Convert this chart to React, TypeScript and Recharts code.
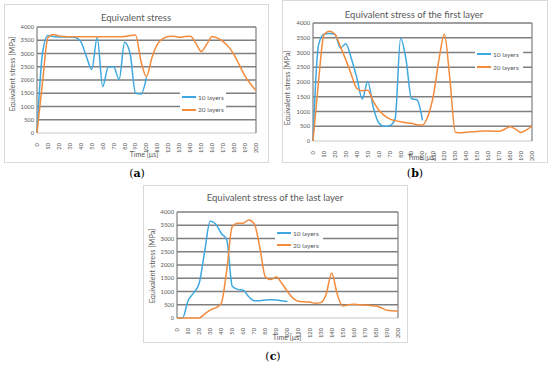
import React from "react";
import { LineChart, Line, XAxis, YAxis, ReferenceLine } from "recharts";

const FONT = "Lato, 'Open Sans', sans-serif";
const BLUE = "#3fa8e0";
const ORANGE = "#f38b3c";
const GRID = "#7f7f7f";
const TEXT = "#595959";

// time axis (µs), sampled every 5
const TIME = [0, 5, 10, 15, 20, 25, 30, 35, 40, 45, 50, 55, 60, 65, 70, 75, 80, 85, 90, 95, 100,
  105, 110, 115, 120, 125, 130, 135, 140, 145, 150, 155, 160, 165, 170, 175, 180, 185, 190, 195, 200];
const X_TICKS = [0, 10, 20, 30, 40, 50, 60, 70, 80, 90, 100, 110, 120, 130, 140, 150, 160, 170, 180, 190, 200];
const Y_TICKS = [0, 500, 1000, 1500, 2000, 2500, 3000, 3500, 4000];

// (a) equivalent stress
const A10 = [0, 3000, 3680, 3640, 3620, 3620, 3620, 3600, 3450, 2900, 2400, 3600, 1750, 2480, 2500, 2020, 3420, 3000, 1500, 1470, 2100];
const A20 = [0, 1900, 3600, 3720, 3660, 3640, 3630, 3630, 3630, 3630, 3630, 3630, 3630, 3630, 3630, 3630, 3640, 3680, 3700, 2700, 2130,
  2850, 3350, 3560, 3640, 3650, 3610, 3640, 3650, 3400, 3080, 3350, 3640, 3580, 3450, 3250, 2950, 2550, 2150, 1850, 1600];

// (b) first layer
const B10 = [0, 3250, 3620, 3640, 3620, 3150, 3300, 2800, 2150, 1420, 2020, 1150, 620, 500, 520, 750, 3480, 2750, 1430, 1400, 700];
const B20 = [0, 2000, 3600, 3720, 3620, 3200, 2750, 2250, 1780, 1700, 1720, 1350, 1050, 870, 750, 690, 650, 620, 600, 550, 540,
  850, 1550, 2750, 3620, 2100, 300, 280, 300, 310, 320, 340, 340, 330, 330, 400, 480, 400, 290, 380, 500];

// (c) last layer
const C10 = [0, 0, 650, 950, 1300, 2500, 3650, 3550, 3200, 2950, 1200, 1080, 1050, 800, 650, 650, 680, 690, 680, 650, 620];
const C20 = [0, 0, 0, 0, 0, 150, 300, 380, 550, 1800, 3450, 3580, 3580, 3700, 3550, 2650, 1550, 1450, 1550, 1300, 1000,
  750, 630, 610, 600, 560, 580, 900, 1700, 900, 450, 500, 520, 500, 490, 470, 450, 380, 290, 270, 260];

const SERIES = [
  { key: "s10", name: "10 layers", color: BLUE },
  { key: "s20", name: "20 layers", color: ORANGE },
];

const rowsOf = (s10: number[], s20: number[]) =>
  TIME.map((t, i) => ({ t, s10: s10[i], s20: s20[i] }));

function XTick({ x, y, payload }: any) {
  return (
    <g transform={`translate(${x},${y})`}>
      <text transform="rotate(-90)" x={-2} dy="0.33em" textAnchor="end" fontSize={5.8} fill={TEXT} fontFamily={FONT}>
        {payload.value}
      </text>
    </g>
  );
}

// legend box sits over the plot and hides the grid behind it, like Excel's
function LegendBox({ left, top, width, rowH }: any) {
  return (
    <div style={{ position: "absolute", left, top, width, background: "#fff", padding: "0 2px", boxSizing: "border-box",
      fontFamily: FONT, fontSize: 6.5, color: TEXT, zIndex: 5 }}>
      {SERIES.map((s) => (
        <div key={s.key} style={{ display: "flex", alignItems: "center", height: rowH, background: "#fff" }}>
          <span style={{ display: "inline-block", width: 14, height: 2, background: s.color, marginRight: 2 }} />
          <span style={{ whiteSpace: "nowrap" }}>{s.name}</span>
        </div>
      ))}
    </div>
  );
}

function Panel({ rows, left, top, width, height, margin, xAxisH, legend }: any) {
  return (
    <div style={{ position: "absolute", left, top, width, height, isolation: "isolate" }}>
      <div style={{ position: "absolute", left: 0, top: 0, zIndex: 0 }}>
        <LineChart width={width} height={height} data={rows} margin={margin}>
          <XAxis dataKey="t" type="number" domain={[0, 200]} ticks={X_TICKS} interval={0} height={xAxisH}
            tick={<XTick />} tickLine={false} axisLine={false} />
          <YAxis type="number" domain={[0, 4000]} ticks={Y_TICKS} interval={0} width={20} tickSize={0} tickMargin={3}
            tickLine={false} axisLine={false} tick={{ fontSize: 5.8, fill: TEXT, fontFamily: FONT }} />
          {Y_TICKS.map((v) => (
            <ReferenceLine key={v} y={v} stroke={v === 0 ? "#d9d9d9" : GRID} strokeWidth={1.6} />
          ))}
          <ReferenceLine x={0} stroke={GRID} strokeWidth={1.2} />
          <ReferenceLine x={200} stroke={GRID} strokeWidth={1.2} />
          {SERIES.map((s) => (
            <Line key={s.key} type="monotone" dataKey={s.key} name={s.name} stroke={s.color} strokeWidth={1.5}
              dot={false} isAnimationActive={false} />
          ))}
        </LineChart>
      </div>
      <LegendBox {...legend} />
    </div>
  );
}

const abs = (left: number, top: number, extra: React.CSSProperties = {}): React.CSSProperties => ({
  position: "absolute", left, top, transform: "translate(-50%,-50%)", whiteSpace: "nowrap", ...extra,
});

function Frame({ left, top, width, height }: any) {
  return <div style={{ position: "absolute", left, top, width, height, border: "1px solid #d9d9d9", boxSizing: "border-box" }} />;
}

function Tag({ x, y, letter }: any) {
  return (
    <div style={abs(x, y, { fontFamily: "'DejaVu Serif', 'Liberation Serif', serif", fontSize: 11, color: "#000", zIndex: 20 })}>
      (<b>{letter}</b>)
    </div>
  );
}

export default function App() {
  const title = { fontSize: 9.5, color: TEXT, fontFamily: FONT, zIndex: 20 };
  const axisLbl = { fontSize: 7, color: TEXT, fontFamily: FONT, zIndex: 20 };
  const yLbl = { ...axisLbl, fontSize: 7.3, transform: "translate(-50%,-50%) rotate(-90deg)" };
  return (
    <div style={{ position: "absolute", left: 0, top: 0, width: 550, height: 365, background: "#fff", overflow: "hidden" }}>
      <Frame left={4} top={4} width={265} height={159} />
      <Frame left={282} top={0} width={266} height={163} />
      <Frame left={143} top={185} width={265} height={158} />

      <Panel rows={rowsOf(A10, A20)} left={4} top={4} width={264} height={158} xAxisH={18}
        margin={{ top: 23, right: 12, bottom: 11, left: 13 }}
        legend={{ left: 176, top: 87.3, width: 46, rowH: 12.2 }} />
      <Panel rows={rowsOf(B10, B20)} left={282} top={0} width={266} height={162} xAxisH={14}
        margin={{ top: 23, right: 16, bottom: 7, left: 11 }}
        legend={{ left: 193, top: 47.5, width: 48, rowH: 13.3 }} />
      <Panel rows={rowsOf(C10, C20)} left={143} top={185} width={265} height={158} xAxisH={14}
        margin={{ top: 27, right: 10, bottom: 11, left: 14 }}
        legend={{ left: 132, top: 42.5, width: 48, rowH: 11.7 }} />

      <div style={abs(136, 16.7, title)}>Equivalent stress</div>
      <div style={abs(414, 14.3, title)}>Equivalent stress of the first layer</div>
      <div style={abs(275, 197.3, title)}>Equivalent stress of the last layer</div>

      <div style={abs(12, 74, yLbl)}>Equivalent stress [MPa]</div>
      <div style={abs(287, 88, yLbl)}>Equivalent stress [MPa]</div>
      <div style={abs(152, 266, yLbl)}>Equivalent stress [MPa]</div>

      <div style={abs(144, 154, axisLbl)}>Time [µs]</div>
      <div style={abs(422, 156.7, axisLbl)}>Time [µs]</div>
      <div style={abs(287, 337, axisLbl)}>Time [µs]</div>

      <Tag x={137} y={173} letter="a" />
      <Tag x={415} y={173} letter="b" />
      <Tag x={273} y={356} letter="c" />
    </div>
  );
}
